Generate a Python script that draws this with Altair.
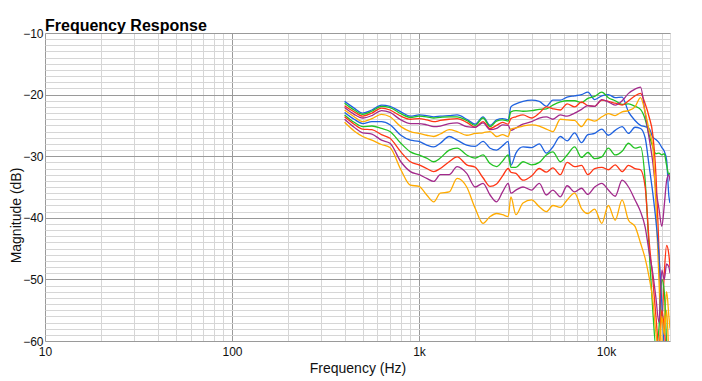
import altair as alt
import pandas as pd

freqs = [400, 450, 500, 560, 630, 700, 800, 900, 1000, 1100, 1200, 1300, 1450, 1600, 1800,
         2000, 2200, 2400, 2600, 2800, 3000, 3100, 3300, 3600, 4000,
         4400, 4800, 5200, 5700, 6200, 6800, 7400, 8000, 8700, 9500,
         10300, 11200, 12200, 13200, 14300, 15300, 16200, 17000, 17800, 18500,
         19200, 19900, 20500, 21100, 21700, 22000]

b1 = [-21.1, -22.2, -23.0, -22.5, -21.7, -21.9, -22.8, -23.5, -23.3, -23.4, -23.6, -23.5, -23.4, -23.3, -24.0,
      -24.8, -23.6, -25.0, -24.1, -23.9, -24.1, -22.0, -21.5, -21.1, -20.9,
      -21.1, -21.9, -20.9, -20.9, -20.4, -20.2, -20.0, -19.6, -20.8, -20.2,
      -20.0, -20.5, -20.4, -22.8, -24.2, -25.0, -25.2, -25.5, -26.9, -27.3,
      -27.8, -28.6, -29.2, -30.6, -36.5, -37.6]
g1 = [-21.4, -22.5, -23.2, -22.7, -21.9, -22.1, -23.1, -23.7, -23.5, -23.6, -23.8, -23.7, -23.6, -23.6, -24.2,
      -25.0, -23.8, -25.2, -24.3, -24.1, -24.3, -22.8, -22.6, -22.7, -22.6,
      -22.4, -22.3, -21.7, -21.2, -21.0, -21.0, -21.3, -20.6, -20.3, -19.6,
      -20.5, -21.0, -21.6, -21.5, -21.9, -22.4, -24.0, -26.5, -28.5, -29.6,
      -29.5, -29.8, -29.6, -31.5, -33.0, -32.7]
r1 = [-21.8, -22.8, -23.5, -23.0, -22.2, -22.5, -23.5, -24.0, -23.9, -24.1, -24.4, -24.2, -24.0, -23.9, -24.5,
      -25.3, -24.4, -25.5, -25.0, -24.5, -24.8, -23.9, -23.6, -23.3, -23.8,
      -23.0, -22.0, -22.3, -22.5, -21.5, -22.0, -21.2, -21.8, -21.9, -20.9,
      -21.1, -21.4, -21.7, -21.0, -20.2, -19.8, -21.5, -23.6, -26.5, -33.0,
      -45.0, -57.0, -49.0, -44.5, -46.0, -48.0]
p1 = [-22.1, -23.2, -23.8, -23.4, -22.6, -22.9, -24.1, -24.7, -24.7, -24.9, -25.2, -25.1, -24.7, -24.6, -25.2,
      -25.3, -24.6, -25.7, -25.5, -24.9, -25.0, -25.8, -25.4, -24.8, -24.4,
      -23.8, -23.6, -24.0, -23.3, -23.5, -23.0, -22.4, -21.8, -21.9, -20.8,
      -21.2, -21.7, -21.0, -19.8, -19.1, -18.8, -23.0, -27.0, -31.0, -35.5,
      -38.5, -41.4, -38.0, -34.0, -33.0, -34.0]
o1 = [-22.5, -23.6, -24.4, -23.9, -23.2, -23.6, -25.2, -26.0, -26.3, -26.6, -26.8, -26.4, -25.7, -26.0, -26.6,
      -26.3, -26.2, -26.0, -26.8, -26.5, -26.8, -25.6, -25.4, -25.1, -24.9,
      -25.1, -25.6, -26.0, -24.0, -24.1, -24.2, -25.2, -24.0, -24.3, -23.6,
      -23.1, -23.4, -22.8, -22.6, -22.0, -20.5, -22.8, -25.7, -28.5, -38.0,
      -50.0, -61.0, -57.0, -52.0, -56.0, -58.0]
b2 = [-22.9, -24.0, -24.7, -24.4, -24.4, -24.9, -26.6, -27.4, -27.6, -28.2, -28.5, -27.9, -26.8, -27.4, -28.2,
      -28.4, -27.6, -28.7, -29.0, -28.3, -27.6, -31.5, -29.5, -28.5, -28.6,
      -28.0, -29.5, -28.5, -26.8, -27.5, -26.2, -27.8, -26.5, -26.3, -25.6,
      -26.6, -25.8, -25.2, -26.3, -25.3, -25.5, -27.0, -31.5, -36.0, -40.5,
      -46.0, -54.0, -61.0, -63.0, -63.0, -63.0]
g2 = [-23.3, -24.5, -25.2, -25.1, -25.5, -26.0, -27.9, -29.3, -29.8, -30.3, -30.9, -30.3, -29.0, -28.7, -29.8,
      -30.3, -29.8, -31.2, -31.7, -30.8, -29.8, -31.8, -31.8, -30.9, -31.4,
      -31.0, -29.8, -29.3, -30.9, -29.8, -28.5, -30.2, -29.4, -30.4, -30.1,
      -28.7, -29.8, -29.2, -27.9, -28.7, -28.5, -33.9, -45.0, -55.0, -61.0,
      -58.0, -50.0, -52.0, -60.0, -63.0, -63.0]
r2 = [-23.6, -24.8, -25.6, -25.7, -26.5, -27.1, -29.3, -30.9, -31.4, -32.0, -32.5, -32.0, -30.9, -30.1, -31.4,
      -31.8, -33.5, -34.9, -34.5, -33.2, -32.0, -32.6, -32.8, -33.9, -33.2,
      -32.0, -32.6, -31.9, -33.0, -31.0, -31.7, -31.5, -33.0, -32.0, -31.8,
      -32.2, -31.4, -32.5, -31.5, -32.0, -32.2, -35.0, -43.6, -50.0, -56.0,
      -61.0, -55.0, -58.0, -62.0, -63.0, -63.0]
p2 = [-24.0, -25.3, -26.2, -26.4, -27.4, -27.9, -30.9, -32.5, -33.0, -33.6, -34.1, -33.0, -33.0, -31.7, -32.8,
      -35.0, -34.4, -36.3, -37.4, -35.8, -34.4, -36.0, -35.5, -35.0, -35.5,
      -34.4, -36.3, -35.5, -36.6, -34.8, -35.8, -35.2, -36.2, -35.0, -34.4,
      -35.5, -36.5, -33.9, -35.0, -37.1, -39.0, -41.5, -45.5, -49.0, -53.0,
      -57.0, -48.5, -50.0, -47.5, -48.0, -49.0]
o2 = [-24.5, -25.9, -26.8, -27.4, -28.1, -28.6, -32.2, -34.7, -34.9, -36.3, -37.4, -36.0, -35.8, -33.6, -35.0,
      -38.5, -40.9, -39.8, -39.3, -39.5, -39.8, -36.6, -39.5, -37.6, -37.1,
      -38.2, -39.0, -38.0, -38.3, -37.1, -36.0, -38.5, -39.3, -38.6, -40.9,
      -38.0, -40.4, -37.1, -40.4, -41.4, -44.1, -46.6, -49.6, -53.3, -58.7,
      -62.0, -56.0, -59.0, -55.0, -62.0, -63.0]

series_names = ["s01", "s02", "s03", "s04", "s05", "s06", "s07", "s08", "s09", "s10"]
series_values = [b1, g1, r1, p1, o1, b2, g2, r2, p2, o2]
series_colors = ["#1f62e0", "#22c322", "#ff3514", "#a32a8c", "#ffab00",
                 "#1f62e0", "#22c322", "#ff3514", "#a32a8c", "#ffab00"]

rows = []
for name, vals in zip(series_names, series_values):
    for f, v in zip(freqs, vals):
        rows.append({"series": name, "freq": f, "mag": v})
df = pd.DataFrame(rows)

x_ticks = [m * 10 ** k for k in range(1, 5) for m in range(1, 10) if m * 10 ** k <= 22000]
y_ticks = list(range(-60, -9))

FONT = "Liberation Sans"

x_axis = alt.Axis(
    values=x_ticks, grid=True, ticks=False, domain=False,
    gridColor={"condition": {"test": "indexof([10,100,1000,10000], datum.value) >= 0", "value": "#9a9a9a"}, "value": "#d6d6d6"},
    labelExpr="datum.value == 1000 ? '1k' : datum.value == 10000 ? '10k' : (datum.value == 10 || datum.value == 100) ? datum.label : ''",
    labelOverlap=False, labelFlush=False, labelFontSize=12, labelFont=FONT, labelColor="#111",
    labelPadding=5, title="Frequency (Hz)", titleFontSize=14, titleFont=FONT,
    titleFontWeight="normal", titleColor="#111", titlePadding=4,
)
y_axis = alt.Axis(
    values=y_ticks, grid=True, ticks=False, domain=False,
    gridColor={"condition": {"test": "datum.value % 10 === 0", "value": "#9a9a9a"}, "value": "#d6d6d6"},
    labelExpr="datum.value % 10 === 0 ? datum.label : ''",
    labelOverlap=False, labelFlush=False, labelFontSize=12, labelFont=FONT, labelColor="#111",
    labelPadding=2, title="Magnitude (dB)", titleFontSize=14, titleFont=FONT,
    titleFontWeight="normal", titleColor="#111",
    titleX=-29, titleY=182, titleAngle=270, titleAlign="center", titleBaseline="middle",
)

chart = alt.Chart(df).mark_line(strokeWidth=1.3, clip=True, interpolate="monotone").encode(
    x=alt.X("freq:Q", scale=alt.Scale(type="log", domain=[10, 22000], nice=False), axis=x_axis),
    y=alt.Y("mag:Q", scale=alt.Scale(domain=[-60, -10], nice=False, zero=False), axis=y_axis),
    color=alt.Color("series:N", scale=alt.Scale(domain=series_names, range=series_colors), legend=None),
    order=alt.Order("freq:Q"),
).properties(
    width=625, height=308,
    title=alt.TitleParams("Frequency Response", anchor="start", frame="group", fontSize=16, font=FONT,
                          fontWeight="bold", color="#000", offset=3, dy=10),
    autosize=alt.AutoSizeParams(type="none"),
    padding={"left": 37, "top": 25, "right": 24, "bottom": 42},
).configure_view(stroke="#9a9a9a", strokeWidth=1).configure(background="white")

chart.save("out.html", embed_options={"renderer": "svg", "actions": False})
